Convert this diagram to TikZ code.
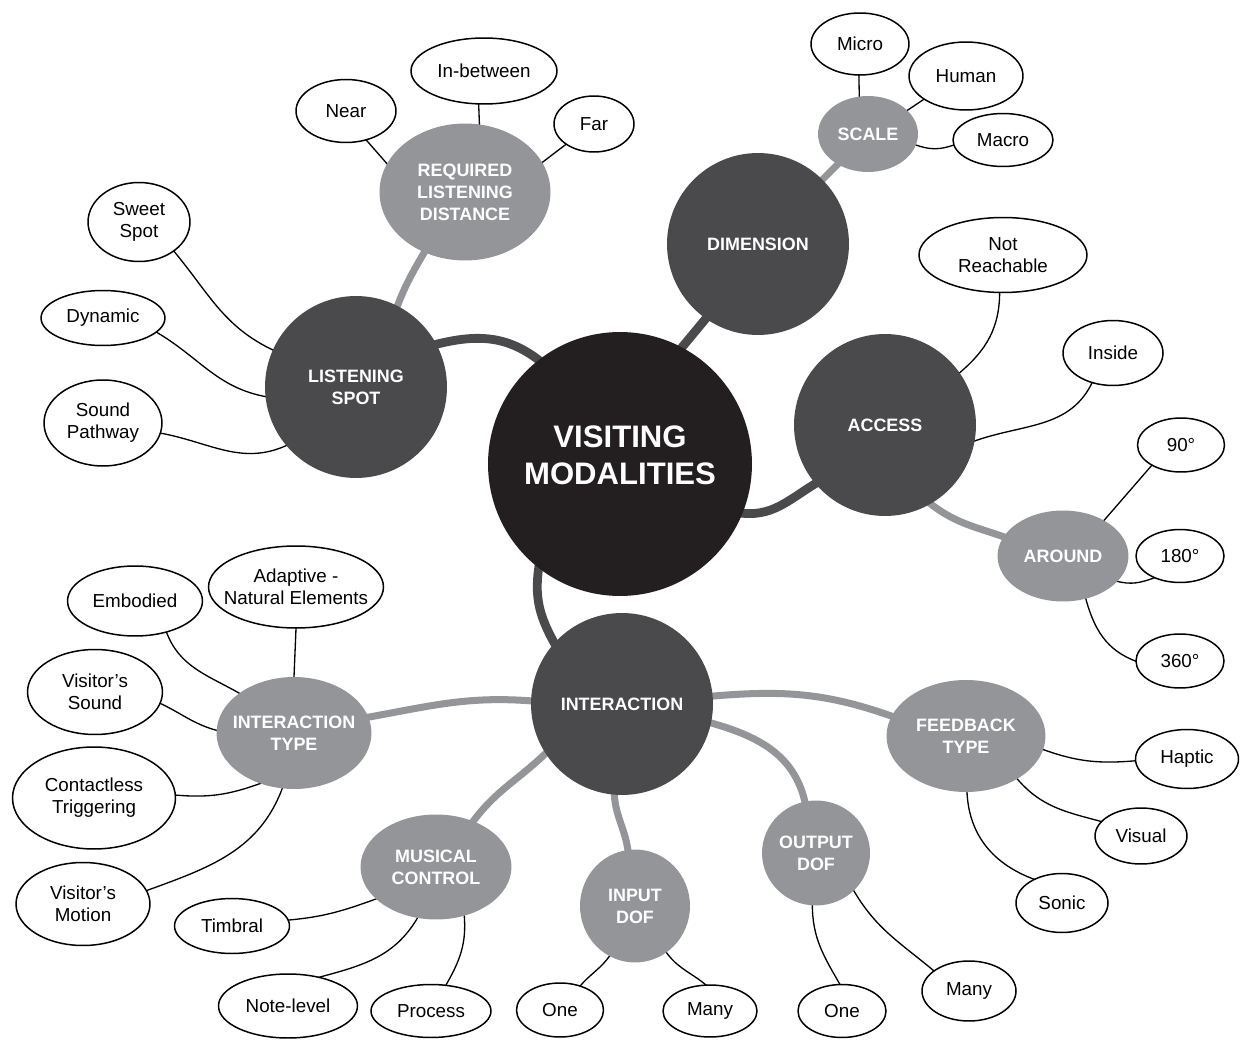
\documentclass[tikz,border=0pt]{standalone}
\usepackage{fontspec}
\setmainfont{Liberation Sans}
\usetikzlibrary{shapes.geometric, backgrounds}
\definecolor{cblack}{HTML}{231F20}
\definecolor{cdark}{HTML}{4A4A4C}
\definecolor{cmid}{HTML}{939598}
\tikzset{
  every picture/.style={x=0.02cm, y=0.02cm},
  hub/.style={circle, fill=cblack, text=white, minimum size=5.28cm, align=center, text depth=0.35cm, font=\fontsize{17.7}{21}\selectfont\bfseries},
  topic/.style={circle, fill=cdark, text=white, minimum size=3.64cm, align=center, font=\fontsize{10.2}{12.5}\selectfont\bfseries},
  subtopic/.style 2 args={ellipse, fill=cmid, text=white, minimum width=#1, minimum height=#2, inner sep=0pt, align=center, font=\fontsize{10.2}{12.5}\selectfont\bfseries},
  leaf/.style 2 args={ellipse, draw=black, fill=white, line width=0.85pt, minimum width=#1, minimum height=#2, inner sep=0pt, align=center, font=\fontsize{10.7}{12.5}\selectfont},
  trunk/.style={draw=cdark, line width=5pt, shorten <=-4pt, shorten >=-4pt},
  branch/.style={draw=cmid, line width=4pt, shorten <=-4pt, shorten >=-4pt},
  twig/.style={draw=black, line width=0.75pt, shorten <=-1pt, shorten >=-1pt},
}

\begin{document}
\begin{tikzpicture}
  \useasboundingbox (0,0) rectangle (1241,-1040);
  \node[hub] (vm) at (620,-464) {VISITING\\MODALITIES};
  \node[topic] (spot) at (356,-387) {LISTENING\\SPOT};
  \node[topic] (dim) at (758,-244) {DIMENSION};
  \node[topic] (access) at (885,-425) {ACCESS};
  \node[topic] (inter) at (622,-704) {INTERACTION};

  \node[subtopic={3.42cm}{2.74cm}] (dist) at (465,-192) {REQUIRED\\LISTENING\\DISTANCE};
  \node[subtopic={2cm}{1.52cm}] (scale) at (868,-134) {SCALE};
  \node[subtopic={2.62cm}{1.82cm}] (around) at (1063,-556) {AROUND};
  \node[subtopic={3.1cm}{2.24cm}, inner xsep=-0.2cm] (itype) at (294,-733) {INTERACTION\\TYPE};
  \node[subtopic={3.02cm}{2.1cm}] (musical) at (436,-867) {MUSICAL\\CONTROL};
  \node[subtopic={2.2cm}{2.26cm}] (idof) at (635,-906) {INPUT\\DOF};
  \node[subtopic={2.16cm}{2.1cm}] (odof) at (816,-853) {OUTPUT\\DOF};
  \node[subtopic={3.18cm}{2.24cm}] (fback) at (966,-736) {FEEDBACK\\TYPE};

  \node[leaf={2cm}{1.26cm}] (near) at (346,-111) {Near};
  \node[leaf={2.92cm}{1.32cm}] (between) at (484,-71) {In-between};
  \node[leaf={1.6cm}{1.12cm}] (far) at (594,-124) {Far};
  \node[leaf={2.04cm}{1.58cm}] (sweet) at (139,-222) {Sweet\\Spot};
  \node[leaf={2.48cm}{1.1cm}] (dynamic) at (103,-318) {Dynamic};
  \node[leaf={2.36cm}{1.72cm}] (pathway) at (103,-423) {Sound\\Pathway};
  \node[leaf={1.96cm}{1.24cm}] (micro) at (860,-44) {Micro};
  \node[leaf={2.28cm}{1.36cm}] (human) at (966,-76) {Human};
  \node[leaf={2cm}{1.06cm}] (macro) at (1003,-140) {Macro};
  \node[leaf={3.36cm}{1.5cm}] (unreach) at (1003,-255) {Not\\Reachable};
  \node[leaf={2cm}{1.3cm}] (inside) at (1113,-353) {Inside};
  \node[leaf={1.74cm}{1.08cm}] (deg90) at (1181,-445) {90°};
  \node[leaf={1.76cm}{1.06cm}] (deg180) at (1180,-556) {180°};
  \node[leaf={1.76cm}{1.08cm}] (deg360) at (1180,-661) {360°};
  \node[leaf={2.7cm}{1.4cm}] (embodied) at (135,-601) {Embodied};
  \node[leaf={3.5cm}{1.64cm}, inner xsep=-0.25cm] (adaptive) at (296,-587) {Adaptive -\\Natural Elements};
  \node[leaf={2.7cm}{1.7cm}] (vsound) at (95,-692) {Visitor’s\\Sound};
  \node[leaf={3.26cm}{2.04cm}] (contactless) at (94,-798) {Contactless\\Triggering};
  \node[leaf={2.68cm}{1.66cm}] (vmotion) at (83,-904) {Visitor’s\\Motion};
  \node[leaf={2.3cm}{1.1cm}] (timbral) at (232,-926) {Timbral};
  \node[leaf={2.78cm}{1.28cm}] (notelevel) at (288,-1006) {Note-level};
  \node[leaf={2.4cm}{1.06cm}] (process) at (431,-1011) {Process};
  \node[leaf={1.74cm}{1.08cm}] (ione) at (560,-1010) {One};
  \node[leaf={1.88cm}{1.04cm}] (imany) at (710,-1011) {Many};
  \node[leaf={1.76cm}{1.06cm}] (oone) at (842,-1011) {One};
  \node[leaf={1.88cm}{1.2cm}] (omany) at (969,-991) {Many};
  \node[leaf={2.06cm}{1.18cm}] (haptic) at (1187,-759) {Haptic};
  \node[leaf={1.84cm}{1.12cm}] (visual) at (1141,-836) {Visual};
  \node[leaf={1.84cm}{1.18cm}] (sonic) at (1062,-903) {Sonic};

  \begin{scope}[on background layer]
    \draw[trunk] (spot.28) to[out=15,in=140] (vm.128);
    \draw[trunk] (vm.62) -- (dim.235);
    \draw[trunk] (vm.-22) to[out=-10,in=210] (access.220);
    \draw[trunk] (vm.232) to[out=260,in=120] (inter.138);

    \draw[branch] (spot.63) to[out=70,in=240] (dist.236);
    \draw[branch] (dim) -- (scale);
    \draw[branch] (access.-60) to[out=-40,in=160] (around.162);
    \draw[branch] (inter.178) to[out=175,in=10] (itype.12);
    \draw[branch] (inter.5) to[out=5,in=160] (fback.165);
    \draw[branch] (inter.213) to[out=225,in=55] (musical.51);
    \draw[branch] (inter.265) to[out=270,in=95] (idof.97);
    \draw[branch] (inter.-12) to[out=-15,in=100] (odof.102);

    \draw[twig] (near.-55) -- (dist.160);
    \draw[twig] (between.261) -- (dist.78);
    \draw[twig] (far.216) -- (dist.21);
    \draw[twig] (sweet.-40) to[out=-50,in=155] (spot.156);
    \draw[twig] (dynamic.-15) to[out=-30,in=170] (spot.186);
    \draw[twig] (pathway.-10) to[out=-10,in=205] (spot.220);
    \draw[twig] (micro.268) -- (scale.103);
    \draw[twig] (human.209) -- (scale.31);
    \draw[twig] (macro.186) to[out=200,in=-20] (scale.-13);
    \draw[twig] (unreach.265) to[out=270,in=40] (access.35);
    \draw[twig] (inside.235) to[out=245,in=20] (access.-10);
    \draw[twig] (deg90.215) -- (around.41);
    \draw[twig] (deg180.220) to[out=200,in=-15] (around.-25);
    \draw[twig] (deg360.180) to[out=160,in=-75] (around.-62);
    \draw[twig] (embodied.-45) to[out=-70,in=150] (itype.144);
    \draw[twig] (adaptive.south) -- (itype.north);
    \draw[twig] (vsound.-10) to[out=-25,in=165] (itype.178);
    \draw[twig] (contactless.2) to[out=-5,in=200] (itype.236);
    \draw[twig] (vmotion.12) to[out=20,in=250] (itype.258);
    \draw[twig] (timbral.6) to[out=5,in=200] (musical.208);
    \draw[twig] (notelevel.42) to[out=15,in=240] (musical.250);
    \draw[twig] (process.60) to[out=60,in=275] (musical.-60);
    \draw[twig] (ione.50) to[out=50,in=235] (idof.243);
    \draw[twig] (imany.100) to[out=140,in=-55] (idof.-56);
    \draw[twig] (oone.95) to[out=120,in=270] (odof.266);
    \draw[twig] (omany.150) to[out=140,in=-60] (odof.-45);
    \draw[twig] (haptic.182) to[out=185,in=-20] (fback.-10);
    \draw[twig] (visual.160) to[out=165,in=-50] (fback.-40);
    \draw[twig] (sonic.140) to[out=160,in=-88] (fback.-89);
  \end{scope}
\end{tikzpicture}
\end{document}
